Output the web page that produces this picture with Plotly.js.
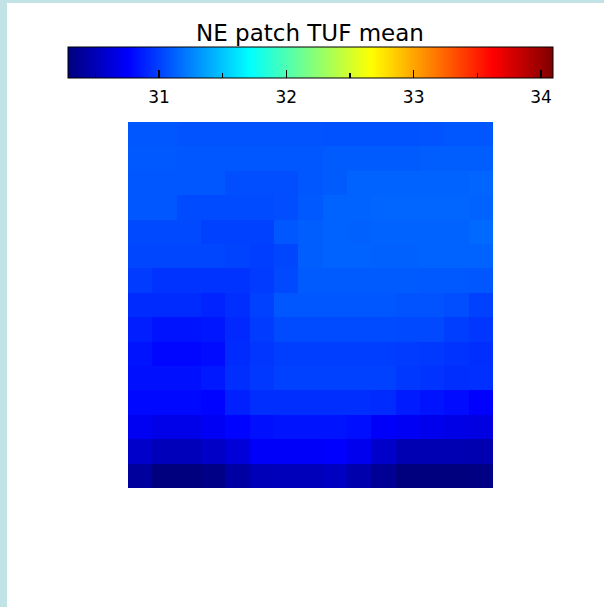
<!DOCTYPE html>
<html>
<head>
<meta charset="utf-8">
<script src="https://cdn.plot.ly/plotly-3.0.1.min.js"></script>
<style>
  html, body { margin: 0; padding: 0; background: #c1e3e6; }
  #frame { position: absolute; left: 0; top: 0; width: 604px; height: 607px; overflow: hidden; }
  #chart { position: absolute; left: 7px; top: 3px; width: 597px; height: 604px; background: #ffffff; }
</style>
</head>
<body>
<div id="frame"><div id="chart"></div></div>
<script>
// Mean TUF over the NE patch, 15 x 15 grid, rows listed north (top) to south (bottom)
const titleText = 'NE patch TUF mean';
const colCount = 15;
const rowCount = 15;

const row00 = [31.08,31.08,31.07,31.07,31.07,31.07,31.07,31.07,31.06,31.06,31.06,31.06,31.07,31.08,31.08];
const row01 = [31.09,31.09,31.08,31.08,31.08,31.08,31.08,31.08,31.10,31.10,31.10,31.10,31.11,31.11,31.11];
const row02 = [31.08,31.08,31.08,31.08,31.05,31.05,31.05,31.08,31.10,31.13,31.13,31.13,31.13,31.13,31.14];
const row03 = [31.08,31.08,31.04,31.04,31.04,31.04,31.05,31.09,31.13,31.13,31.14,31.14,31.14,31.14,31.13];
const row04 = [31.03,31.03,31.03,31.00,31.00,31.00,31.08,31.11,31.13,31.12,31.13,31.13,31.13,31.13,31.15];
const row05 = [31.02,31.02,31.02,31.02,31.01,30.99,31.02,31.11,31.13,31.13,31.12,31.12,31.13,31.13,31.13];
const row06 = [30.98,30.95,30.95,30.95,30.95,30.98,31.03,31.10,31.10,31.10,31.10,31.10,31.09,31.09,31.08];
const row07 = [30.92,30.92,30.92,30.89,30.93,31.00,31.08,31.08,31.08,31.08,31.08,31.07,31.07,31.05,31.00];
const row08 = [30.87,30.83,30.83,30.84,30.91,30.98,31.04,31.04,31.04,31.04,31.04,31.03,31.03,30.99,30.96];
const row09 = [30.83,30.78,30.78,30.80,30.92,30.96,30.99,30.99,30.99,30.99,30.99,30.98,30.97,30.95,30.93];
const row10 = [30.82,30.82,30.82,30.85,30.93,30.97,31.00,31.00,31.00,31.00,31.00,30.97,30.95,30.93,30.94];
const row11 = [30.79,30.79,30.79,30.77,30.88,30.93,30.93,30.93,30.93,30.93,30.92,30.86,30.83,30.80,30.76];
const row12 = [30.71,30.68,30.68,30.72,30.77,30.82,30.83,30.83,30.83,30.81,30.74,30.72,30.69,30.67,30.65];
const row13 = [30.57,30.51,30.51,30.55,30.62,30.74,30.74,30.74,30.76,30.70,30.57,30.48,30.48,30.48,30.47];
const row14 = [30.40,30.29,30.29,30.32,30.42,30.50,30.51,30.51,30.53,30.46,30.37,30.29,30.29,30.29,30.31];

// colour bar range and tick values
const scaleMin = 30.283;
const scaleMax = 34.092;
const majorTicks = [31, 32, 33, 34];
const majorLabels = ['31', '32', '33', '34'];
const minorTicks = [30.5, 31.5, 32.5, 33.5];

const grid = [row00,row01,row02,row03,row04,row05,row06,row07,row08,row09,row10,row11,row12,row13,row14];
const xs = Array.from({length: colCount}, (_, i) => i);
const ys = Array.from({length: rowCount}, (_, i) => i);

const jet = [
  [0.000, 'rgb(0,0,125)'],
  [0.125, 'rgb(0,0,255)'],
  [0.375, 'rgb(0,255,255)'],
  [0.625, 'rgb(255,255,0)'],
  [0.875, 'rgb(255,0,0)'],
  [1.000, 'rgb(128,0,0)']
];
const clear = [[0, 'rgba(0,0,0,0)'], [1, 'rgba(0,0,0,0)']];

const font = 'DejaVu Sans, sans-serif';
const barBase = {
  orientation: 'h',
  lenmode: 'pixels', len: 485,
  thicknessmode: 'pixels', thickness: 31,
  x: 0.4992, xanchor: 'center',
  y: 1.2057, yanchor: 'top',
  xpad: 0, ypad: 0,
  tickmode: 'array'
};

const mainTrace = {
  type: 'heatmap', x: xs, y: ys, z: grid,
  zmin: scaleMin, zmax: scaleMax, colorscale: jet,
  hoverinfo: 'skip',
  colorbar: Object.assign({}, barBase, {
    outlinewidth: 1, outlinecolor: '#000000',
    tickvals: majorTicks, ticktext: majorLabels,
    ticks: 'outside', ticklen: 5, tickcolor: 'rgba(0,0,0,0)',
    tickfont: {family: font, size: 17, color: '#000000'}
  })
};

// tick marks drawn inside the bar (major, then minor)
const majorTickTrace = {
  type: 'heatmap', x: xs, y: ys, z: grid,
  zmin: scaleMin, zmax: scaleMax, colorscale: clear,
  hoverinfo: 'skip',
  colorbar: Object.assign({}, barBase, {
    outlinewidth: 0,
    tickvals: majorTicks, ticktext: majorLabels, showticklabels: false,
    ticks: 'inside', ticklen: 8, tickwidth: 1.3, tickcolor: '#000000'
  })
};
const minorTickTrace = {
  type: 'heatmap', x: xs, y: ys, z: grid,
  zmin: scaleMin, zmax: scaleMax, colorscale: clear,
  hoverinfo: 'skip',
  colorbar: Object.assign({}, barBase, {
    outlinewidth: 0,
    tickvals: minorTicks, showticklabels: false,
    ticks: 'inside', ticklen: 5, tickwidth: 1.3, tickcolor: '#000000'
  })
};

const layout = {
  width: 597, height: 604,
  paper_bgcolor: '#ffffff', plot_bgcolor: '#ffffff',
  margin: {l: 121, r: 111, t: 119, b: 119, pad: 0},
  showlegend: false,
  title: {
    text: titleText,
    font: {family: font, size: 23, color: '#000000'},
    xref: 'paper', x: 0.4986, xanchor: 'center',
    yref: 'container', y: 0.95, yanchor: 'middle'
  },
  xaxis: {visible: false, range: [-0.5, colCount - 0.5], fixedrange: true},
  yaxis: {visible: false, range: [rowCount - 0.5, -0.5], fixedrange: true}
};

Plotly.newPlot('chart', [mainTrace, majorTickTrace, minorTickTrace], layout, {staticPlot: true, displayModeBar: false});
</script>
</body>
</html>
